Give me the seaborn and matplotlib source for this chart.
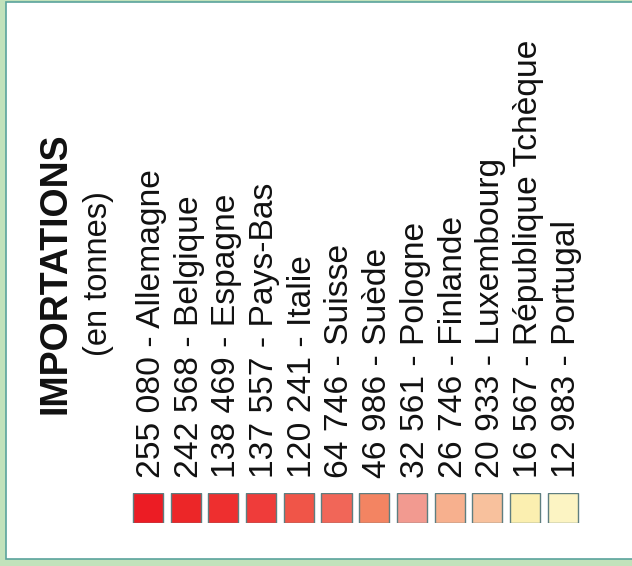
import matplotlib
matplotlib.use("Agg")
import matplotlib.pyplot as plt
import matplotlib.patches as mpatches
import seaborn as sns
import pandas as pd

# =========================================
# DATA
# =========================================

countries = [
    "Allemagne", "Belgique", "Espagne", "Pays-Bas", "Italie", "Suisse",
    "Suède", "Pologne", "Finlande", "Luxembourg", "République Tchèque", "Portugal",
]

imports_t = [
    255080, 242568, 138469, 137557, 120241, 64746,
    46986, 32561, 26746, 20933, 16567, 12983,
]

class_colors = [
    "#ec1c24", "#ec2628", "#ee2f2f", "#ef3c3a", "#f05548", "#f16658",
    "#f38462", "#f29a90", "#f7b08e", "#f8c19d", "#fbefb0", "#fcf4c3",
]

title = "IMPORTATIONS"
subtitle = "(en tonnes)"

# =========================================
# STYLE
# =========================================

sns.set_style("white")
plt.rcParams["font.family"] = ["Liberation Sans", "DejaVu Sans"]

green_bg = "#c2e2bb"
panel_edge = "#5aa39c"

W, H = 632, 566
fig = plt.figure(figsize=(W / 100, H / 100), dpi=100)
fig.patch.set_facecolor(green_bg)

# background / panel axes in pixel units
ax_bg = fig.add_axes([0, 0, 1, 1])
ax_bg.set_xlim(0, W)
ax_bg.set_ylim(H, 0)
ax_bg.axis("off")
ax_bg.add_patch(mpatches.Rectangle((5.5, 2), 640, 557, facecolor="white",
                                   edgecolor=panel_edge, linewidth=1.2))

ax_bg.text(55, 273, title, rotation=90, ha="center", va="center",
           fontsize=27, fontweight="bold", color="#111111")
ax_bg.text(98, 274, subtitle, rotation=90, ha="center", va="center",
           fontsize=23.5, color="#111111")

# =========================================
# COLOUR SQUARES
# =========================================

step = 37.7
left_px = 148 - step / 2
ax_sq = fig.add_axes([left_px / W, (H - 523) / H, step * 12 / W, 30 / H])

df = pd.DataFrame({"pays": countries, "val": [1] * len(countries)})

sns.barplot(
    data=df, x="pays", y="val", hue="pays", palette=class_colors,
    legend=False, width=0.8, edgecolor="#5e7e80", linewidth=1.0,
    saturation=1, ax=ax_sq,
)
ax_sq.set_xlim(-0.5, len(countries) - 0.5)
ax_sq.set_ylim(0, 1)
ax_sq.axis("off")

# =========================================
# LABELS
# =========================================

ax_lab = fig.add_axes([left_px / W, 0, step * 12 / W, 1])
ax_lab.set_xlim(-0.5, len(countries) - 0.5)
ax_lab.set_ylim(H, 0)
ax_lab.axis("off")
ax_lab.patch.set_alpha(0)

for i, (pays, v) in enumerate(zip(countries, imports_t)):
    txt = f"{v:,}".replace(",", " ") + " - " + pays
    ax_lab.text(i, 478, txt, rotation=90, rotation_mode="anchor",
                ha="left", va="center_baseline", fontsize=24.2, color="#111111")

fig.savefig("out.png", dpi=100, facecolor=fig.get_facecolor())
